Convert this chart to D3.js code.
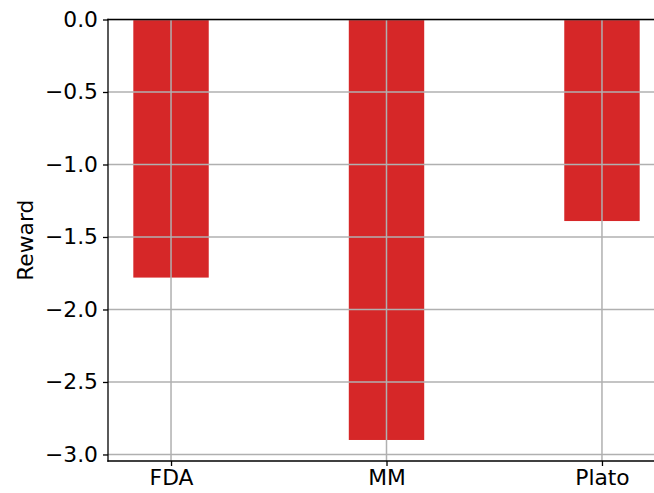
<!DOCTYPE html>
<html>
<head>
<meta charset="utf-8">
<script src="https://cdn.jsdelivr.net/npm/d3@7"></script>
<style>
  html, body { margin: 0; padding: 0; background: #fff; }
  svg { display: block; font-family: "DejaVu Sans", sans-serif; }
</style>
</head>
<body>
<svg id="chart" width="654" height="493"></svg>
<script>
// Mean reward per method
const categories = ["FDA", "MM", "Plato"];
const rewards = [-1.78, -2.90, -1.39];
const yTicks = [0.0, -0.5, -1.0, -1.5, -2.0, -2.5, -3.0];

const W = 654, H = 493;
const plot = { left: 108, right: 665, top: 19.5, bottom: 461 };
const barWidth = 0.35;
const barColor = "#d62728";
const gridColor = "#b0b0b0";
const fontSize = 21.8;

const svg = d3.select("#chart");

// Axis limits with a 5% margin like the default autoscaling
const xMin = -barWidth / 2, xMax = categories.length - 1 + barWidth / 2;
const xPad = (xMax - xMin) * 0.05;
const x = d3.scaleLinear()
  .domain([xMin - xPad, xMax + xPad])
  .range([plot.left, plot.right]);

const yLow = d3.min(rewards);
const y = d3.scaleLinear()
  .domain([yLow + yLow * 0.05, 0])
  .range([plot.bottom, plot.top]);

svg.append("defs").append("clipPath").attr("id", "plotclip")
  .append("rect")
  .attr("x", plot.left).attr("y", plot.top)
  .attr("width", plot.right - plot.left).attr("height", plot.bottom - plot.top);

const fmt = d => (d < 0 ? "\u2212" : "") + Math.abs(d).toFixed(1);

// Bars
svg.append("g").attr("clip-path", "url(#plotclip)")
  .selectAll("rect").data(rewards).join("rect")
  .attr("x", (d, i) => x(i - barWidth / 2))
  .attr("width", (d, i) => x(i + barWidth / 2) - x(i - barWidth / 2))
  .attr("y", d => y(0))
  .attr("height", d => y(d) - y(0))
  .attr("fill", barColor);

// Grid drawn over the bars
const grid = svg.append("g").attr("clip-path", "url(#plotclip)");
grid.selectAll("line.h").data(yTicks).join("line")
  .attr("class", "h")
  .attr("x1", plot.left).attr("x2", plot.right)
  .attr("y1", d => y(d)).attr("y2", d => y(d))
  .attr("stroke", gridColor).attr("stroke-width", 1.5);
grid.selectAll("line.v").data(categories).join("line")
  .attr("class", "v")
  .attr("x1", (d, i) => x(i)).attr("x2", (d, i) => x(i))
  .attr("y1", plot.top).attr("y2", plot.bottom)
  .attr("stroke", gridColor).attr("stroke-width", 1.5);

// Y axis
const yAxis = d3.axisLeft(y).tickValues(yTicks).tickFormat(fmt)
  .tickSizeInner(5).tickSizeOuter(0).tickPadding(5);
const gy = svg.append("g").attr("transform", `translate(${plot.left},0)`).call(yAxis);
gy.select(".domain").remove();
gy.attr("font-size", fontSize).attr("font-family", "DejaVu Sans");
gy.selectAll(".tick line").attr("stroke", "#000").attr("stroke-width", 1.3);
gy.selectAll(".tick text").attr("fill", "#000");

// X axis
const xAxis = d3.axisBottom(x).tickValues(categories.map((d, i) => i))
  .tickFormat(i => categories[i]).tickSizeInner(5).tickSizeOuter(0).tickPadding(4);
const gx = svg.append("g").attr("transform", `translate(0,${plot.bottom})`).call(xAxis);
gx.select(".domain").remove();
gx.attr("font-size", fontSize).attr("font-family", "DejaVu Sans");
gx.selectAll(".tick line").attr("stroke", "#000").attr("stroke-width", 1.3);
gx.selectAll(".tick text").attr("fill", "#000");

// Spines
const spines = svg.append("g").attr("stroke", "#000").attr("stroke-width", 1.3)
  .attr("stroke-linecap", "square");
spines.append("line").attr("x1", plot.left).attr("x2", plot.left)
  .attr("y1", plot.top).attr("y2", plot.bottom);
spines.append("line").attr("x1", plot.left).attr("x2", plot.right)
  .attr("y1", plot.bottom).attr("y2", plot.bottom);
spines.append("line").attr("x1", plot.left).attr("x2", plot.right)
  .attr("y1", plot.top).attr("y2", plot.top);

// Y label
svg.append("text")
  .attr("transform", `translate(33,${(plot.top + plot.bottom) / 2 + 0}) rotate(-90)`)
  .attr("text-anchor", "middle")
  .attr("font-size", fontSize)
  .attr("font-family", "DejaVu Sans")
  .attr("fill", "#000")
  .text("Reward");
</script>
</body>
</html>
